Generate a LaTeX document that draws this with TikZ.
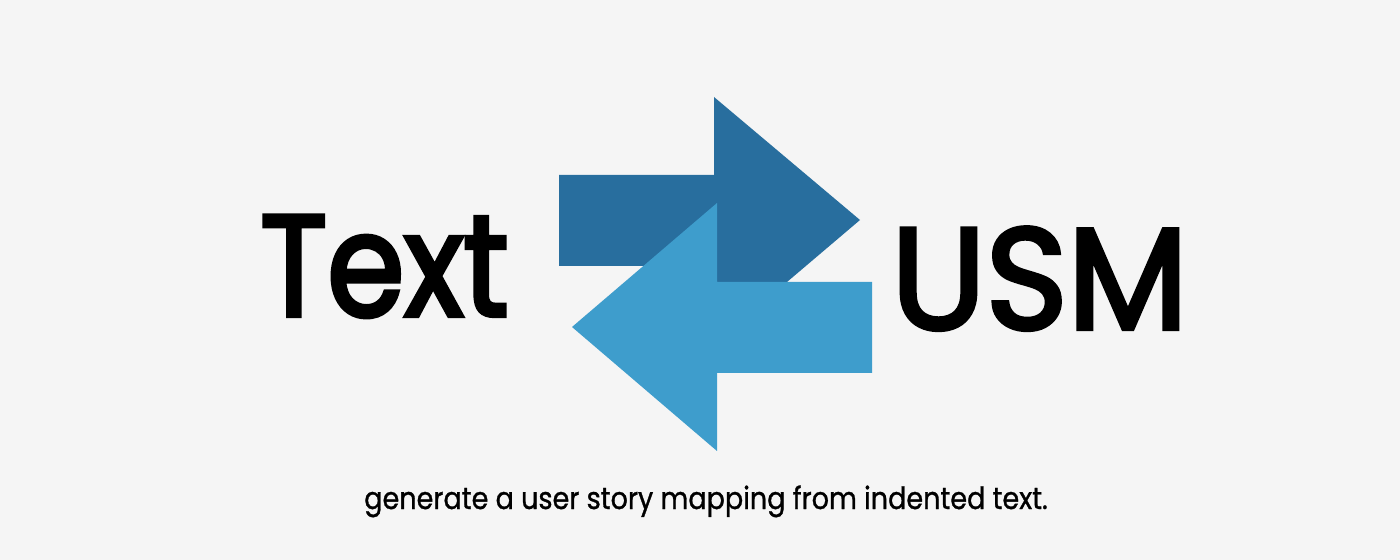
\documentclass[tikz,border=0pt]{standalone}
\usepackage{fontspec}
\setmainfont{Poppins}
\newfontfamily\wordfont[FakeBold=3,FakeStretch=0.86]{Poppins}
\newfontfamily\usmfont[FakeBold=3,FakeStretch=0.97]{Poppins}
\newfontfamily\tagfont[FakeBold=1,FakeStretch=0.88]{Poppins}
\usetikzlibrary{positioning}
\definecolor{bgpaper}{HTML}{F5F5F5}
\definecolor{arrowdark}{HTML}{286E9E}
\definecolor{arrowlight}{HTML}{3E9DCC}
\begin{document}
\begin{tikzpicture}[
            x=0.02cm, y=-0.02cm,
            title/.style={text=black, inner sep=0pt},
            caption/.style={font=\tagfont\fontsize{17.5}{22}\selectfont, text=black, inner sep=0pt}
        ]
            % --- background ---
            \fill[bgpaper] (0,0) rectangle (1400,560);
            \useasboundingbox (0,0) rectangle (1400,560);

            % --- arrows ---
            \fill[arrowdark] (559,175) -- (714,175) -- (714,97) -- (860,220) -- (714,344) -- (714,266) -- (559,266) -- cycle;
            \fill[arrowlight] (872,282) -- (717,282) -- (717,203) -- (572,327) -- (717,451) -- (717,373) -- (872,373) -- cycle;

            % --- labels ---
            \node[title, font=\wordfont\fontsize{82}{82}\selectfont, anchor=base west] (text) at (260,316) {Text};
            \node[title, font=\usmfont\fontsize{82}{82}\selectfont, anchor=base west] (usm) at (891,329) {USM};
            \node[caption, anchor=base] (tagline) at (706,509) {generate a user story mapping from indented text.};
        \end{tikzpicture}
\end{document}
